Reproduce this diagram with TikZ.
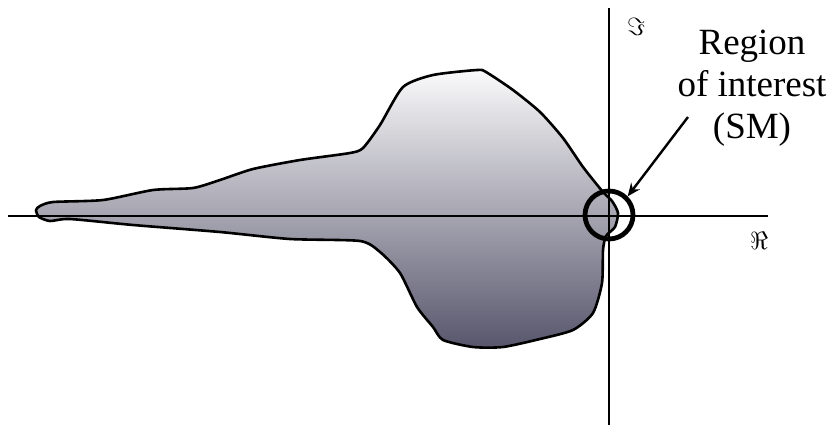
\documentclass[tikz,border=0pt]{standalone}
\usepackage{amsmath,amssymb}
\usepackage{fontspec}
\setmainfont{Liberation Serif}
\usepackage{xcolor}
\usetikzlibrary{arrows.meta,calc}
\definecolor{blobtop}{RGB}{250,250,251}
\definecolor{blobmid}{RGB}{190,190,196}
\definecolor{blobbot}{RGB}{88,86,108}
\begin{document}
\begin{tikzpicture}[x=1pt, y=-1pt,
  axis/.style={line width=2.6pt},
  blob/.style={line width=2.6pt, line join=round, top color=blobtop, middle color=blobmid, bottom color=blobbot},
  roi/.style={circle, draw, line width=4.8pt, minimum size=48pt, inner sep=0pt},
  lbl/.style={align=center, font=\fontsize{37}{42}\selectfont},
  sym/.style={font=\fontsize{30}{32}\selectfont, inner sep=0pt},
  arr/.style={-{Stealth[length=13pt, width=11pt]}, line width=2.4pt}]
\useasboundingbox (0,0) rectangle (834,431);
% the region
\draw[blob] plot[smooth cycle, tension=0.4] coordinates {
  (36,210) (40,206) (53,202) (103,200) (153,190) (193,188) (220,180)
  (253,169) (300,160) (350,153) (363,148) (380,125) (403,87) (433,75)
  (477,70) (486,72) (513,90) (540,112) (563,138) (583,167) (603,192)
  (612,201) (618,213) (615,227) (606,236) (603,250) (602,283)
  (593,313) (573,330) (540,339) (503,347) (473,347) (443,340)
  (433,327) (417,307) (400,273) (380,252) (360,241) (290,239)
  (220,232) (133,225) (70,219) (50,221) (39,217)};
% axes
\draw[axis] (8,216) -- (768,216);
\draw[axis] (609,8) -- (609,425);
\node[sym] (im) at (636,27) {$\Im$};
\node[sym] (re) at (759,241) {$\Re$};
% region of interest
\node[roi] (circ) at (609,215) {};
\node[lbl] (txt) at (752,88) {Region\\of interest\\(SM)};
\coordinate (tail) at (688,117);
\draw[arr] (tail) -- (circ.north east);
\end{tikzpicture}
\end{document}
